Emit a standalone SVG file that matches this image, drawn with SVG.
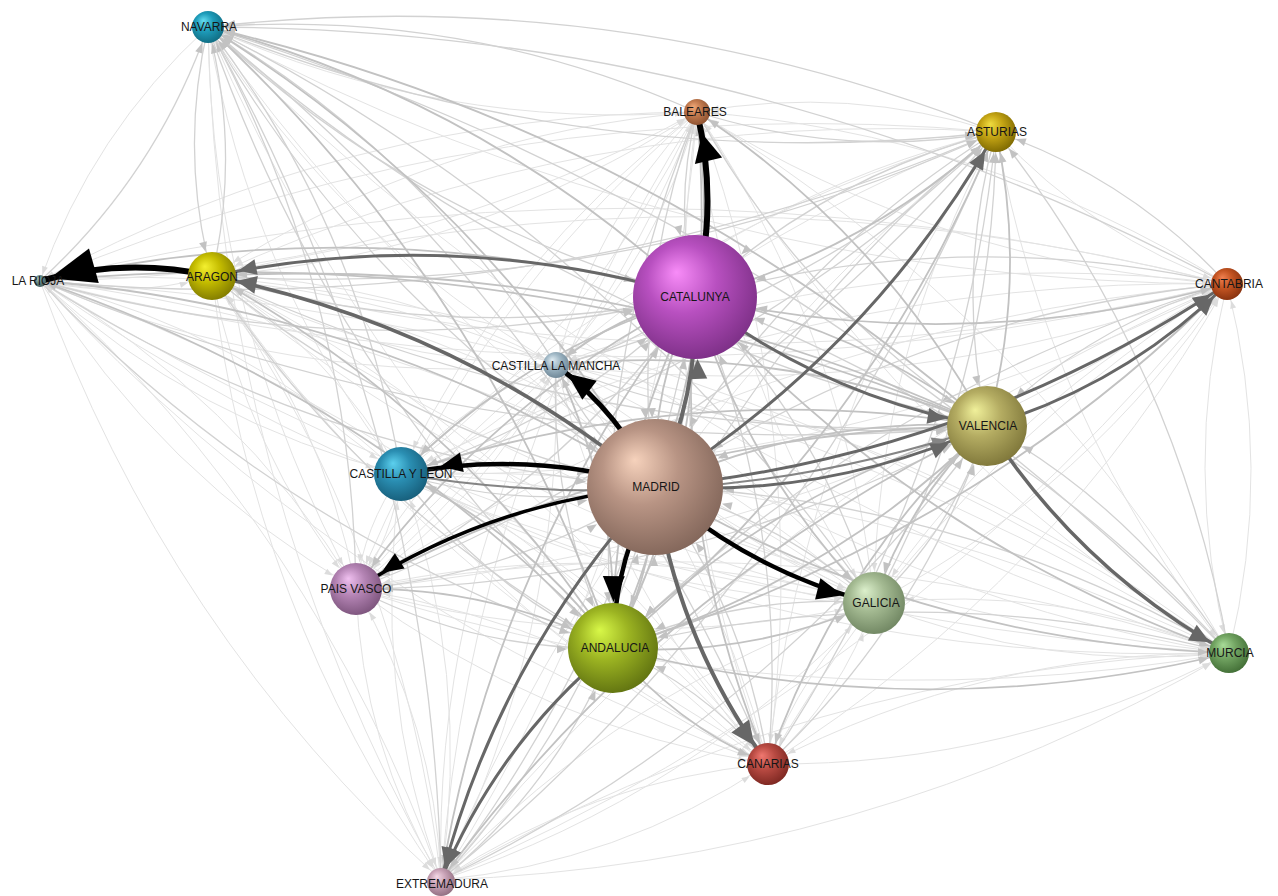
<svg xmlns="http://www.w3.org/2000/svg" width="1278" height="896" viewBox="0 0 1278 896">
<style>
.f{fill:none;stroke:#e3e3e3;stroke-width:1}
.m{fill:none;stroke:#d2d2d2;stroke-width:1.3}
.w{fill:none;stroke:#c2c2c2;stroke-width:1.8}
.dk{fill:none;stroke:#000}
.dg{fill:none;stroke:#676767}
.ma{fill:#c2c2c2}
.mb{fill:#dcdcdc}
.kb{fill:#000}
.kg{fill:#676767}
marker{overflow:visible}
text{font-family:"Liberation Sans",Arial,sans-serif;font-size:12px;fill:#161616;text-anchor:middle}
</style>
<defs>
<marker id="aA" orient="auto" markerUnits="userSpaceOnUse" refX="17" refY="0" overflow="visible"><path class="ma" d="M0,0L-10,-4L-10,4z"/></marker>
<marker id="aB" orient="auto" markerUnits="userSpaceOnUse" refX="14" refY="0" overflow="visible"><path class="ma" d="M0,0L-10,-4L-10,4z"/></marker>
<marker id="aC" orient="auto" markerUnits="userSpaceOnUse" refX="21" refY="0" overflow="visible"><path class="ma" d="M0,0L-10,-4L-10,4z"/></marker>
<marker id="aD" orient="auto" markerUnits="userSpaceOnUse" refX="7" refY="0" overflow="visible"><path class="ma" d="M0,0L-10,-4L-10,4z"/></marker>
<marker id="aE" orient="auto" markerUnits="userSpaceOnUse" refX="25" refY="0" overflow="visible"><path class="ma" d="M0,0L-10,-4L-10,4z"/></marker>
<marker id="aF" orient="auto" markerUnits="userSpaceOnUse" refX="63" refY="0" overflow="visible"><path class="ma" d="M0,0L-10,-4L-10,4z"/></marker>
<marker id="aG" orient="auto" markerUnits="userSpaceOnUse" refX="17" refY="0" overflow="visible"><path class="ma" d="M0,0L-10,-4L-10,4z"/></marker>
<marker id="aH" orient="auto" markerUnits="userSpaceOnUse" refX="14" refY="0" overflow="visible"><path class="ma" d="M0,0L-10,-4L-10,4z"/></marker>
<marker id="aI" orient="auto" markerUnits="userSpaceOnUse" refX="41" refY="0" overflow="visible"><path class="ma" d="M0,0L-10,-4L-10,4z"/></marker>
<marker id="aJ" orient="auto" markerUnits="userSpaceOnUse" refX="28" refY="0" overflow="visible"><path class="ma" d="M0,0L-10,-4L-10,4z"/></marker>
<marker id="aK" orient="auto" markerUnits="userSpaceOnUse" refX="69" refY="0" overflow="visible"><path class="ma" d="M0,0L-10,-4L-10,4z"/></marker>
<marker id="aL" orient="auto" markerUnits="userSpaceOnUse" refX="27" refY="0" overflow="visible"><path class="ma" d="M0,0L-10,-4L-10,4z"/></marker>
<marker id="aM" orient="auto" markerUnits="userSpaceOnUse" refX="32" refY="0" overflow="visible"><path class="ma" d="M0,0L-10,-4L-10,4z"/></marker>
<marker id="aN" orient="auto" markerUnits="userSpaceOnUse" refX="46" refY="0" overflow="visible"><path class="ma" d="M0,0L-10,-4L-10,4z"/></marker>
<marker id="aO" orient="auto" markerUnits="userSpaceOnUse" refX="21" refY="0" overflow="visible"><path class="ma" d="M0,0L-10,-4L-10,4z"/></marker>
<marker id="aP" orient="auto" markerUnits="userSpaceOnUse" refX="22" refY="0" overflow="visible"><path class="ma" d="M0,0L-10,-4L-10,4z"/></marker>
<marker id="aQ" orient="auto" markerUnits="userSpaceOnUse" refX="15" refY="0" overflow="visible"><path class="ma" d="M0,0L-10,-4L-10,4z"/></marker>
<marker id="bB" orient="auto" markerUnits="userSpaceOnUse" refX="14" refY="0" overflow="visible"><path class="mb" d="M0,0L-8,-3L-8,3z"/></marker>
<marker id="bD" orient="auto" markerUnits="userSpaceOnUse" refX="7" refY="0" overflow="visible"><path class="mb" d="M0,0L-8,-3L-8,3z"/></marker>
<marker id="bE" orient="auto" markerUnits="userSpaceOnUse" refX="25" refY="0" overflow="visible"><path class="mb" d="M0,0L-8,-3L-8,3z"/></marker>
<marker id="bG" orient="auto" markerUnits="userSpaceOnUse" refX="17" refY="0" overflow="visible"><path class="mb" d="M0,0L-8,-3L-8,3z"/></marker>
<marker id="bH" orient="auto" markerUnits="userSpaceOnUse" refX="14" refY="0" overflow="visible"><path class="mb" d="M0,0L-8,-3L-8,3z"/></marker>
<marker id="bJ" orient="auto" markerUnits="userSpaceOnUse" refX="28" refY="0" overflow="visible"><path class="mb" d="M0,0L-8,-3L-8,3z"/></marker>
<marker id="bL" orient="auto" markerUnits="userSpaceOnUse" refX="27" refY="0" overflow="visible"><path class="mb" d="M0,0L-8,-3L-8,3z"/></marker>
<marker id="bM" orient="auto" markerUnits="userSpaceOnUse" refX="32" refY="0" overflow="visible"><path class="mb" d="M0,0L-8,-3L-8,3z"/></marker>
<marker id="bO" orient="auto" markerUnits="userSpaceOnUse" refX="21" refY="0" overflow="visible"><path class="mb" d="M0,0L-8,-3L-8,3z"/></marker>
<marker id="bP" orient="auto" markerUnits="userSpaceOnUse" refX="22" refY="0" overflow="visible"><path class="mb" d="M0,0L-8,-3L-8,3z"/></marker>
<marker id="bQ" orient="auto" markerUnits="userSpaceOnUse" refX="15" refY="0" overflow="visible"><path class="mb" d="M0,0L-8,-3L-8,3z"/></marker>
<marker id="k1" orient="auto" markerUnits="userSpaceOnUse" refX="10" refY="0" overflow="visible"><path class="kb" d="M0,0L-46,-18L-46,18z"/></marker>
<marker id="k2" orient="auto" markerUnits="userSpaceOnUse" refX="22" refY="0" overflow="visible"><path class="kb" d="M0,0L-28,-14L-28,14z"/></marker>
<marker id="k3" orient="auto" markerUnits="userSpaceOnUse" refX="14" refY="0" overflow="visible"><path class="kb" d="M0,0L-28,-12L-28,12z"/></marker>
<marker id="k4" orient="auto" markerUnits="userSpaceOnUse" refX="40" refY="0" overflow="visible"><path class="kb" d="M0,0L-22,-10L-22,10z"/></marker>
<marker id="k5" orient="auto" markerUnits="userSpaceOnUse" refX="30" refY="0" overflow="visible"><path class="kb" d="M0,0L-22,-9L-22,9z"/></marker>
<marker id="k6" orient="auto" markerUnits="userSpaceOnUse" refX="46" refY="0" overflow="visible"><path class="kb" d="M0,0L-26,-11L-26,11z"/></marker>
<marker id="k7" orient="auto" markerUnits="userSpaceOnUse" refX="32" refY="0" overflow="visible"><path class="kb" d="M0,0L-26,-11L-26,11z"/></marker>
<marker id="k8" orient="auto" markerUnits="userSpaceOnUse" refX="23" refY="0" overflow="visible"><path class="kg" d="M0,0L-24,-11L-24,11z"/></marker>
<marker id="k9" orient="auto" markerUnits="userSpaceOnUse" refX="15" refY="0" overflow="visible"><path class="kg" d="M0,0L-18,-8L-18,8z"/></marker>
<marker id="k10" orient="auto" markerUnits="userSpaceOnUse" refX="62" refY="0" overflow="visible"><path class="kg" d="M0,0L-20,-9L-20,9z"/></marker>
<marker id="k11" orient="auto" markerUnits="userSpaceOnUse" refX="22" refY="0" overflow="visible"><path class="kg" d="M0,0L-18,-8L-18,8z"/></marker>
<marker id="k12" orient="auto" markerUnits="userSpaceOnUse" refX="42" refY="0" overflow="visible"><path class="kg" d="M0,0L-18,-8L-18,8z"/></marker>
<marker id="k13" orient="auto" markerUnits="userSpaceOnUse" refX="27" refY="0" overflow="visible"><path class="kg" d="M0,0L-18,-8L-18,8z"/></marker>
<marker id="k14" orient="auto" markerUnits="userSpaceOnUse" refX="25" refY="0" overflow="visible"><path class="kg" d="M0,0L-20,-9L-20,9z"/></marker>
<marker id="k15" orient="auto" markerUnits="userSpaceOnUse" refX="19" refY="0" overflow="visible"><path class="kg" d="M0,0L-18,-8L-18,8z"/></marker>
<marker id="k16" orient="auto" markerUnits="userSpaceOnUse" refX="22" refY="0" overflow="visible"><path class="kg" d="M0,0L-20,-9L-20,9z"/></marker>
<marker id="k17" orient="auto" markerUnits="userSpaceOnUse" refX="42" refY="0" overflow="visible"><path fill="#858585" d="M0,0L-15,-7L-15,7z"/></marker>
<radialGradient id="gNAV" cx="0.45" cy="0.42" r="0.62" fx="0.35" fy="0.3"><stop offset="0" stop-color="#66dcf0"/><stop offset="0.45" stop-color="#1e9cba"/><stop offset="1" stop-color="#0f6a80"/></radialGradient>
<radialGradient id="gBAL" cx="0.45" cy="0.42" r="0.62" fx="0.35" fy="0.3"><stop offset="0" stop-color="#f0a878"/><stop offset="0.45" stop-color="#c27a4e"/><stop offset="1" stop-color="#8a5030"/></radialGradient>
<radialGradient id="gAST" cx="0.45" cy="0.42" r="0.62" fx="0.35" fy="0.3"><stop offset="0" stop-color="#f0dc40"/><stop offset="0.45" stop-color="#c4a414"/><stop offset="1" stop-color="#7a6600"/></radialGradient>
<radialGradient id="gRIO" cx="0.45" cy="0.42" r="0.62" fx="0.35" fy="0.3"><stop offset="0" stop-color="#a8c4c4"/><stop offset="0.45" stop-color="#6a8c8c"/><stop offset="1" stop-color="#3e5858"/></radialGradient>
<radialGradient id="gARA" cx="0.45" cy="0.42" r="0.62" fx="0.35" fy="0.3"><stop offset="0" stop-color="#f4f030"/><stop offset="0.45" stop-color="#c4bc00"/><stop offset="1" stop-color="#7e7800"/></radialGradient>
<radialGradient id="gCAT" cx="0.45" cy="0.42" r="0.62" fx="0.35" fy="0.3"><stop offset="0" stop-color="#f88cf8"/><stop offset="0.45" stop-color="#b850c0"/><stop offset="1" stop-color="#7a2e84"/></radialGradient>
<radialGradient id="gCAN" cx="0.45" cy="0.42" r="0.62" fx="0.35" fy="0.3"><stop offset="0" stop-color="#f08050"/><stop offset="0.45" stop-color="#c45422"/><stop offset="1" stop-color="#84300e"/></radialGradient>
<radialGradient id="gCLM" cx="0.45" cy="0.42" r="0.62" fx="0.35" fy="0.3"><stop offset="0" stop-color="#e0ecf2"/><stop offset="0.45" stop-color="#a0b8c6"/><stop offset="1" stop-color="#6c8494"/></radialGradient>
<radialGradient id="gVAL" cx="0.45" cy="0.42" r="0.62" fx="0.35" fy="0.3"><stop offset="0" stop-color="#f0f09a"/><stop offset="0.45" stop-color="#b4ac62"/><stop offset="1" stop-color="#7c7438"/></radialGradient>
<radialGradient id="gCYL" cx="0.45" cy="0.42" r="0.62" fx="0.35" fy="0.3"><stop offset="0" stop-color="#5cd0ee"/><stop offset="0.45" stop-color="#2a8eb2"/><stop offset="1" stop-color="#165c78"/></radialGradient>
<radialGradient id="gMAD" cx="0.45" cy="0.42" r="0.62" fx="0.35" fy="0.3"><stop offset="0" stop-color="#f6d2bc"/><stop offset="0.45" stop-color="#b89484"/><stop offset="1" stop-color="#806458"/></radialGradient>
<radialGradient id="gPV" cx="0.45" cy="0.42" r="0.62" fx="0.35" fy="0.3"><stop offset="0" stop-color="#f0c0f0"/><stop offset="0.45" stop-color="#b484b4"/><stop offset="1" stop-color="#7a527a"/></radialGradient>
<radialGradient id="gGAL" cx="0.45" cy="0.42" r="0.62" fx="0.35" fy="0.3"><stop offset="0" stop-color="#dcf0cc"/><stop offset="0.45" stop-color="#a4ba92"/><stop offset="1" stop-color="#6e8460"/></radialGradient>
<radialGradient id="gAND" cx="0.45" cy="0.42" r="0.62" fx="0.35" fy="0.3"><stop offset="0" stop-color="#d8f848"/><stop offset="0.45" stop-color="#9cb422"/><stop offset="1" stop-color="#5e7010"/></radialGradient>
<radialGradient id="gMUR" cx="0.45" cy="0.42" r="0.62" fx="0.35" fy="0.3"><stop offset="0" stop-color="#a8dc98"/><stop offset="0.45" stop-color="#72a462"/><stop offset="1" stop-color="#406c34"/></radialGradient>
<radialGradient id="gCNR" cx="0.45" cy="0.42" r="0.62" fx="0.35" fy="0.3"><stop offset="0" stop-color="#f07870"/><stop offset="0.45" stop-color="#b84a42"/><stop offset="1" stop-color="#7a2620"/></radialGradient>
<radialGradient id="gEXT" cx="0.45" cy="0.42" r="0.62" fx="0.35" fy="0.3"><stop offset="0" stop-color="#f4d8e6"/><stop offset="0.45" stop-color="#c8a2b6"/><stop offset="1" stop-color="#8e6c7e"/></radialGradient>
</defs>
<rect width="1278" height="896" fill="#ffffff"/>
<g id="connectors">
<g class="f" marker-end="url(#bB)">
<path d="M208,27Q442,131 697,112"/><path d="M996,132Q849,85 697,112"/><path d="M40,281Q390,279 697,112"/><path d="M212,276Q475,255 697,112"/><path d="M1227,284Q983,132 697,112"/><path d="M556,365Q658,256 697,112"/><path d="M401,474Q594,330 697,112"/><path d="M356,589Q586,393 697,112"/><path d="M874,603Q847,335 697,112"/><path d="M1229,653Q1031,316 697,112"/><path d="M768,764Q814,429 697,112"/><path d="M441,880Q665,528 697,112"/>
</g>
<g class="f" marker-end="url(#bD)">
<path d="M208,27Q92,133 40,281"/><path d="M697,112Q347,114 40,281"/><path d="M996,132Q499,87 40,281"/><path d="M1227,284Q634,134 40,281"/><path d="M556,365Q309,259 40,281"/><path d="M401,474Q245,332 40,281"/><path d="M356,589Q237,396 40,281"/><path d="M874,603Q497,338 40,281"/><path d="M1229,653Q681,318 40,281"/><path d="M768,764Q464,432 40,281"/><path d="M441,880Q315,530 40,281"/>
</g>
<g class="f" marker-end="url(#bE)">
<path d="M697,112Q434,133 212,276"/><path d="M996,132Q586,106 212,276"/><path d="M40,281Q127,300 212,276"/><path d="M1227,284Q720,153 212,276"/><path d="M556,365Q395,278 212,276"/><path d="M401,474Q331,351 212,276"/><path d="M356,589Q323,415 212,276"/><path d="M874,603Q584,357 212,276"/><path d="M1229,653Q768,337 212,276"/><path d="M768,764Q551,451 212,276"/><path d="M441,880Q402,549 212,276"/>
</g>
<g class="f" marker-end="url(#bG)">
<path d="M208,27Q685,283 1227,284"/><path d="M697,112Q940,264 1227,284"/><path d="M996,132Q1093,237 1227,284"/><path d="M40,281Q633,431 1227,284"/><path d="M212,276Q719,407 1227,284"/><path d="M556,365Q902,408 1227,284"/><path d="M401,474Q838,482 1227,284"/><path d="M356,589Q830,545 1227,284"/><path d="M874,603Q1090,488 1227,284"/><path d="M1229,653Q1274,468 1227,284"/><path d="M768,764Q1058,581 1227,284"/><path d="M441,880Q909,680 1227,284"/>
</g>
<g class="f" marker-end="url(#bH)">
<path d="M208,27Q340,240 556,365"/><path d="M697,112Q595,221 556,365"/><path d="M996,132Q747,194 556,365"/><path d="M40,281Q288,388 556,365"/><path d="M212,276Q373,364 556,365"/><path d="M1227,284Q881,241 556,365"/><path d="M401,474Q492,439 556,365"/><path d="M356,589Q484,502 556,365"/><path d="M874,603Q745,444 556,365"/><path d="M1229,653Q929,425 556,365"/><path d="M768,764Q712,538 556,365"/><path d="M441,880Q563,637 556,365"/>
</g>
<g class="f" marker-end="url(#bJ)">
<path d="M208,27Q249,275 401,474"/><path d="M697,112Q504,256 401,474"/><path d="M996,132Q656,229 401,474"/><path d="M40,281Q196,423 401,474"/><path d="M212,276Q282,399 401,474"/><path d="M1227,284Q790,276 401,474"/><path d="M556,365Q465,400 401,474"/><path d="M356,589Q393,537 401,474"/><path d="M874,603Q654,479 401,474"/><path d="M1229,653Q837,460 401,474"/><path d="M768,764Q621,573 401,474"/><path d="M441,880Q472,672 401,474"/>
</g>
<g class="f" marker-end="url(#bL)">
<path d="M208,27Q212,327 356,589"/><path d="M697,112Q467,308 356,589"/><path d="M996,132Q619,281 356,589"/><path d="M40,281Q160,475 356,589"/><path d="M212,276Q245,451 356,589"/><path d="M1227,284Q753,328 356,589"/><path d="M556,365Q428,452 356,589"/><path d="M401,474Q364,526 356,589"/><path d="M874,603Q617,531 356,589"/><path d="M1229,653Q800,512 356,589"/><path d="M768,764Q584,625 356,589"/><path d="M441,880Q435,724 356,589"/>
</g>
<g class="f" marker-end="url(#bM)">
<path d="M208,27Q469,398 874,603"/><path d="M697,112Q724,380 874,603"/><path d="M996,132Q876,352 874,603"/><path d="M40,281Q417,546 874,603"/><path d="M212,276Q502,522 874,603"/><path d="M1227,284Q1011,399 874,603"/><path d="M556,365Q685,524 874,603"/><path d="M401,474Q621,598 874,603"/><path d="M356,589Q613,661 874,603"/><path d="M1229,653Q1058,584 874,603"/><path d="M768,764Q841,697 874,603"/><path d="M441,880Q692,796 874,603"/>
</g>
<g class="f" marker-end="url(#bO)">
<path d="M208,27Q640,468 1229,653"/><path d="M697,112Q895,449 1229,653"/><path d="M996,132Q1047,422 1229,653"/><path d="M40,281Q588,616 1229,653"/><path d="M212,276Q673,592 1229,653"/><path d="M1227,284Q1182,469 1229,653"/><path d="M556,365Q857,593 1229,653"/><path d="M401,474Q793,667 1229,653"/><path d="M356,589Q785,730 1229,653"/><path d="M874,603Q1045,672 1229,653"/><path d="M768,764Q1012,766 1229,653"/><path d="M441,880Q863,865 1229,653"/>
</g>
<g class="f" marker-end="url(#bP)">
<path d="M208,27Q396,466 768,764"/><path d="M697,112Q651,447 768,764"/><path d="M996,132Q803,420 768,764"/><path d="M40,281Q344,614 768,764"/><path d="M212,276Q429,590 768,764"/><path d="M1227,284Q938,467 768,764"/><path d="M556,365Q612,591 768,764"/><path d="M401,474Q548,665 768,764"/><path d="M356,589Q540,728 768,764"/><path d="M874,603Q801,670 768,764"/><path d="M1229,653Q985,651 768,764"/><path d="M441,880Q619,863 768,764"/>
</g>
<g class="f" marker-end="url(#bQ)">
<path d="M208,27Q218,483 441,880"/><path d="M697,112Q473,464 441,880"/><path d="M996,132Q625,437 441,880"/><path d="M40,281Q166,631 441,880"/><path d="M212,276Q251,607 441,880"/><path d="M1227,284Q760,484 441,880"/><path d="M556,365Q434,608 441,880"/><path d="M401,474Q370,682 441,880"/><path d="M356,589Q362,745 441,880"/><path d="M874,603Q623,687 441,880"/><path d="M1229,653Q807,668 441,880"/><path d="M768,764Q590,781 441,880"/>
</g>
<g class="m" marker-end="url(#aA)">
<path d="M697,112Q463,8 208,27"/><path d="M996,132Q615,-19 208,27"/><path d="M40,281Q156,175 208,27"/><path d="M212,276Q241,151 208,27"/><path d="M1227,284Q750,28 208,27"/><path d="M556,365Q424,153 208,27"/><path d="M401,474Q360,226 208,27"/><path d="M356,589Q352,290 208,27"/><path d="M874,603Q613,232 208,27"/><path d="M1229,653Q797,212 208,27"/><path d="M768,764Q580,326 208,27"/><path d="M441,880Q431,424 208,27"/>
</g>
<g class="m" marker-end="url(#aC)">
<path d="M208,27Q589,178 996,132"/><path d="M697,112Q844,159 996,132"/><path d="M40,281Q537,326 996,132"/><path d="M212,276Q622,302 996,132"/><path d="M1227,284Q1131,179 996,132"/><path d="M556,365Q805,304 996,132"/><path d="M401,474Q741,377 996,132"/><path d="M356,589Q733,441 996,132"/><path d="M874,603Q994,383 996,132"/><path d="M1229,653Q1178,363 996,132"/><path d="M768,764Q961,477 996,132"/><path d="M441,880Q812,575 996,132"/>
</g>
<g class="m" marker-end="url(#aE)">
<path d="M208,27Q179,152 212,276"/>
</g>
<g class="m" marker-end="url(#aF)">
<path d="M208,27Q418,223 695,297"/><path d="M697,112Q673,204 695,297"/><path d="M996,132Q825,177 695,297"/><path d="M40,281Q366,371 695,297"/><path d="M212,276Q451,347 695,297"/><path d="M1227,284Q959,224 695,297"/><path d="M556,365Q634,348 695,297"/><path d="M401,474Q570,422 695,297"/><path d="M356,589Q562,485 695,297"/><path d="M874,603Q823,428 695,297"/><path d="M1229,653Q1007,408 695,297"/><path d="M768,764Q790,521 695,297"/><path d="M441,880Q641,620 695,297"/>
</g>
<g class="m" marker-end="url(#aI)">
<path d="M208,27Q548,324 987,426"/><path d="M697,112Q803,305 987,426"/><path d="M996,132Q955,278 987,426"/><path d="M40,281Q495,472 987,426"/><path d="M212,276Q581,448 987,426"/><path d="M1227,284Q1089,325 987,426"/><path d="M556,365Q764,449 987,426"/><path d="M356,589Q692,586 987,426"/><path d="M874,603Q953,529 987,426"/><path d="M1229,653Q1136,509 987,426"/><path d="M768,764Q920,622 987,426"/><path d="M441,880Q771,721 987,426"/>
</g>
<g class="m" marker-end="url(#aK)">
<path d="M208,27Q374,313 655,487"/><path d="M697,112Q629,294 655,487"/><path d="M996,132Q781,267 655,487"/><path d="M40,281Q322,461 655,487"/><path d="M212,276Q407,437 655,487"/><path d="M1227,284Q916,314 655,487"/><path d="M556,365Q590,438 655,487"/><path d="M401,474Q526,512 655,487"/><path d="M356,589Q518,575 655,487"/><path d="M874,603Q779,518 655,487"/><path d="M1229,653Q963,498 655,487"/><path d="M768,764Q746,611 655,487"/><path d="M441,880Q597,710 655,487"/>
</g>
<g class="m" marker-end="url(#aN)">
<path d="M208,27Q333,388 613,648"/><path d="M697,112Q588,370 613,648"/><path d="M996,132Q740,342 613,648"/><path d="M40,281Q281,536 613,648"/><path d="M212,276Q366,512 613,648"/><path d="M1227,284Q875,389 613,648"/><path d="M556,365Q549,514 613,648"/><path d="M401,474Q485,588 613,648"/><path d="M356,589Q477,651 613,648"/><path d="M874,603Q738,593 613,648"/><path d="M1229,653Q922,574 613,648"/><path d="M768,764Q705,687 613,648"/><path d="M441,880Q556,786 613,648"/>
</g>
<g class="w" marker-end="url(#aA)">
<path d="M655,487Q489,201 208,27"/><path d="M695,297Q485,101 208,27"/><path d="M987,426Q647,129 208,27"/><path d="M613,648Q488,287 208,27"/>
</g>
<g class="w" marker-end="url(#aB)">
<path d="M655,487Q723,305 697,112"/><path d="M987,426Q881,233 697,112"/><path d="M613,648Q722,391 697,112"/>
</g>
<g class="w" marker-end="url(#aC)">
<path d="M695,297Q866,252 996,132"/><path d="M987,426Q1028,280 996,132"/><path d="M613,648Q869,438 996,132"/>
</g>
<g class="w" marker-end="url(#aD)">
<path d="M655,487Q373,307 40,281"/><path d="M695,297Q370,207 40,281"/><path d="M987,426Q532,235 40,281"/><path d="M613,648Q372,393 40,281"/>
</g>
<g class="w" marker-end="url(#aE)">
<path d="M987,426Q618,254 212,276"/><path d="M613,648Q459,412 212,276"/>
</g>
<g class="w" marker-end="url(#aF)">
<path d="M987,426Q857,325 695,297"/><path d="M613,648Q698,483 695,297"/>
</g>
<g class="w" marker-end="url(#aG)">
<path d="M695,297Q963,357 1227,284"/><path d="M613,648Q966,543 1227,284"/>
</g>
<g class="w" marker-end="url(#aH)">
<path d="M695,297Q617,314 556,365"/><path d="M987,426Q779,342 556,365"/><path d="M613,648Q620,499 556,365"/>
</g>
<g class="w" marker-end="url(#aI)">
<path d="M613,648Q828,584 987,426"/>
</g>
<g class="w" marker-end="url(#aJ)">
<path d="M695,297Q526,349 401,474"/><path d="M987,426Q688,377 401,474"/><path d="M613,648Q529,535 401,474"/>
</g>
<g class="w" marker-end="url(#aK)">
<path d="M695,297Q651,387 655,487"/><path d="M987,426Q813,415 655,487"/><path d="M613,648Q654,573 655,487"/>
</g>
<g class="w" marker-end="url(#aL)">
<path d="M695,297Q489,401 356,589"/><path d="M987,426Q651,429 356,589"/><path d="M613,648Q492,586 356,589"/>
</g>
<g class="w" marker-end="url(#aM)">
<path d="M695,297Q746,472 874,603"/><path d="M987,426Q908,500 874,603"/><path d="M613,648Q749,658 874,603"/>
</g>
<g class="w" marker-end="url(#aN)">
<path d="M695,297Q610,462 613,648"/><path d="M987,426Q772,490 613,648"/>
</g>
<g class="w" marker-end="url(#aO)">
<path d="M655,487Q921,642 1229,653"/><path d="M695,297Q918,542 1229,653"/><path d="M613,648Q920,728 1229,653"/>
</g>
<g class="w" marker-end="url(#aP)">
<path d="M695,297Q673,540 768,764"/><path d="M987,426Q835,568 768,764"/><path d="M613,648Q676,725 768,764"/>
</g>
<g class="w" marker-end="url(#aQ)">
<path d="M695,297Q495,557 441,880"/><path d="M987,426Q657,585 441,880"/>
</g>
<g class="dg">
<path d="M401,474Q700,523 987,426" stroke="#858585" stroke-width="2" marker-end="url(#k17)"/>
<path d="M655,487Q829,498 987,426" stroke-width="3" marker-end="url(#k12)"/>
<path d="M695,297Q825,398 987,426" stroke-width="3" marker-end="url(#k12)"/>
<path d="M695,297Q456,226 212,276" stroke-width="3" marker-end="url(#k13)"/>
<path d="M655,487Q460,326 212,276" stroke-width="3.5" marker-end="url(#k14)"/>
<path d="M987,426Q1125,385 1227,284" stroke-width="3" marker-end="url(#k15)"/>
<path d="M655,487Q966,457 1227,284" stroke-width="3" marker-end="url(#k15)"/>
<path d="M987,426Q1080,570 1229,653" stroke-width="3.5" marker-end="url(#k16)"/>
<path d="M655,487Q870,352 996,132" stroke-width="3" marker-end="url(#k11)"/>
<path d="M655,487Q699,397 695,297" stroke-width="4" marker-end="url(#k10)"/>
<path d="M655,487Q499,657 441,880" stroke-width="3" marker-end="url(#k9)"/>
<path d="M613,648Q498,743 441,880" stroke-width="3" marker-end="url(#k9)"/>
<path d="M655,487Q677,640 768,764" stroke-width="4" marker-end="url(#k8)"/>
</g>
<g class="dk">
<path d="M212,276Q125,257 40,281" stroke-width="6" marker-end="url(#k1)"/>
<path d="M695,297Q719,205 697,112" stroke-width="6" marker-end="url(#k2)"/>
<path d="M655,487Q621,414 556,365" stroke-width="5" marker-end="url(#k3)"/>
<path d="M655,487Q530,449 401,474" stroke-width="4.5" marker-end="url(#k4)"/>
<path d="M655,487Q493,501 356,589" stroke-width="3.5" marker-end="url(#k5)"/>
<path d="M655,487Q614,562 613,648" stroke-width="4.5" marker-end="url(#k6)"/>
<path d="M655,487Q750,572 874,603" stroke-width="4.5" marker-end="url(#k7)"/>
</g>
</g>
<g id="n-navarra"><circle cx="208" cy="27" r="16" fill="url(#gNAV)"/><text x="209" y="31">NAVARRA</text></g>
<g id="n-baleares"><circle cx="697" cy="112" r="13" fill="url(#gBAL)"/><text x="695" y="116">BALEARES</text></g>
<g id="n-asturias"><circle cx="996" cy="132" r="20" fill="url(#gAST)"/><text x="997" y="136">ASTURIAS</text></g>
<g id="n-larioja"><circle cx="40" cy="281" r="6" fill="url(#gRIO)"/><text x="38" y="285">LA RIOJA</text></g>
<g id="n-aragon"><circle cx="212" cy="276" r="24" fill="url(#gARA)"/><text x="212" y="281">ARAGON</text></g>
<g id="n-catalunya"><circle cx="695" cy="297" r="62" fill="url(#gCAT)"/><text x="695" y="301">CATALUNYA</text></g>
<g id="n-cantabria"><circle cx="1227" cy="284" r="16" fill="url(#gCAN)"/><text x="1229" y="288">CANTABRIA</text></g>
<g id="n-castillalamancha"><circle cx="556" cy="365" r="13" fill="url(#gCLM)"/><text x="556" y="370">CASTILLA LA MANCHA</text></g>
<g id="n-valencia"><circle cx="987" cy="426" r="40" fill="url(#gVAL)"/><text x="988" y="430">VALENCIA</text></g>
<g id="n-castillayleon"><circle cx="401" cy="474" r="27" fill="url(#gCYL)"/><text x="401" y="478">CASTILLA Y LEON</text></g>
<g id="n-madrid"><circle cx="655" cy="487" r="68" fill="url(#gMAD)"/><text x="656" y="491">MADRID</text></g>
<g id="n-paisvasco"><circle cx="356" cy="589" r="26" fill="url(#gPV)"/><text x="356" y="593">PAIS VASCO</text></g>
<g id="n-galicia"><circle cx="874" cy="603" r="31" fill="url(#gGAL)"/><text x="876" y="607">GALICIA</text></g>
<g id="n-andalucia"><circle cx="613" cy="648" r="45" fill="url(#gAND)"/><text x="615" y="652">ANDALUCIA</text></g>
<g id="n-murcia"><circle cx="1229" cy="653" r="20" fill="url(#gMUR)"/><text x="1230" y="657">MURCIA</text></g>
<g id="n-canarias"><circle cx="768" cy="764" r="21" fill="url(#gCNR)"/><text x="768" y="768">CANARIAS</text></g>
<g id="n-extremadura"><circle cx="441" cy="882" r="14" fill="url(#gEXT)"/><text x="442" y="888">EXTREMADURA</text></g>
</svg>
